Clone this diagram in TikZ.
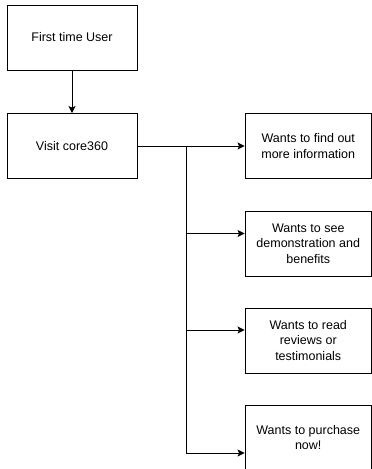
\documentclass[tikz,border=0pt]{standalone}
\usepackage{fontspec}
\setmainfont{Liberation Sans}
\usetikzlibrary{arrows.meta}

\begin{document}
\begin{tikzpicture}[x=1pt,y=-1pt,>={Stealth[length=7pt,width=7pt,inset=1.5pt]},
  box/.style={draw,line width=0.9pt,inner sep=0pt,align=center,minimum height=65pt,
    font=\fontsize{12.5}{15.5}\selectfont},
  leftbox/.style={box,minimum width=130pt},
  rightbox/.style={box,minimum width=126.5pt}]
  \useasboundingbox (0,0) rectangle (372,469);
  \node[leftbox] (user) at (72,37.5) {First time User};
  \node[leftbox] (visit) at (72,146) {Visit core360};
  \node[rightbox] (info) at (308.25,146) {Wants to find out\\more information};
  \node[rightbox] (demo) at (308.25,243.5) {Wants to see\\demonstration and\\benefits};
  \node[rightbox] (reviews) at (308.25,340.5) {Wants to read\\reviews or\\testimonials};
  \node[rightbox] (buy) at (308.25,437.5) {Wants to purchase\\now!};
  \coordinate (trunk) at (186,146);
  \draw[->,line width=0.9pt] (user) -- (visit);
  \draw[->,line width=0.9pt] (visit) -- (info);
  \draw[->,line width=0.9pt] (trunk) |- ([yshift=10pt]demo.west);
  \draw[->,line width=0.9pt] (trunk) |- ([yshift=10.5pt]reviews.west);
  \draw[->,line width=0.9pt] (trunk) |- ([yshift=-15.5pt]buy.west);
\end{tikzpicture}
\end{document}
